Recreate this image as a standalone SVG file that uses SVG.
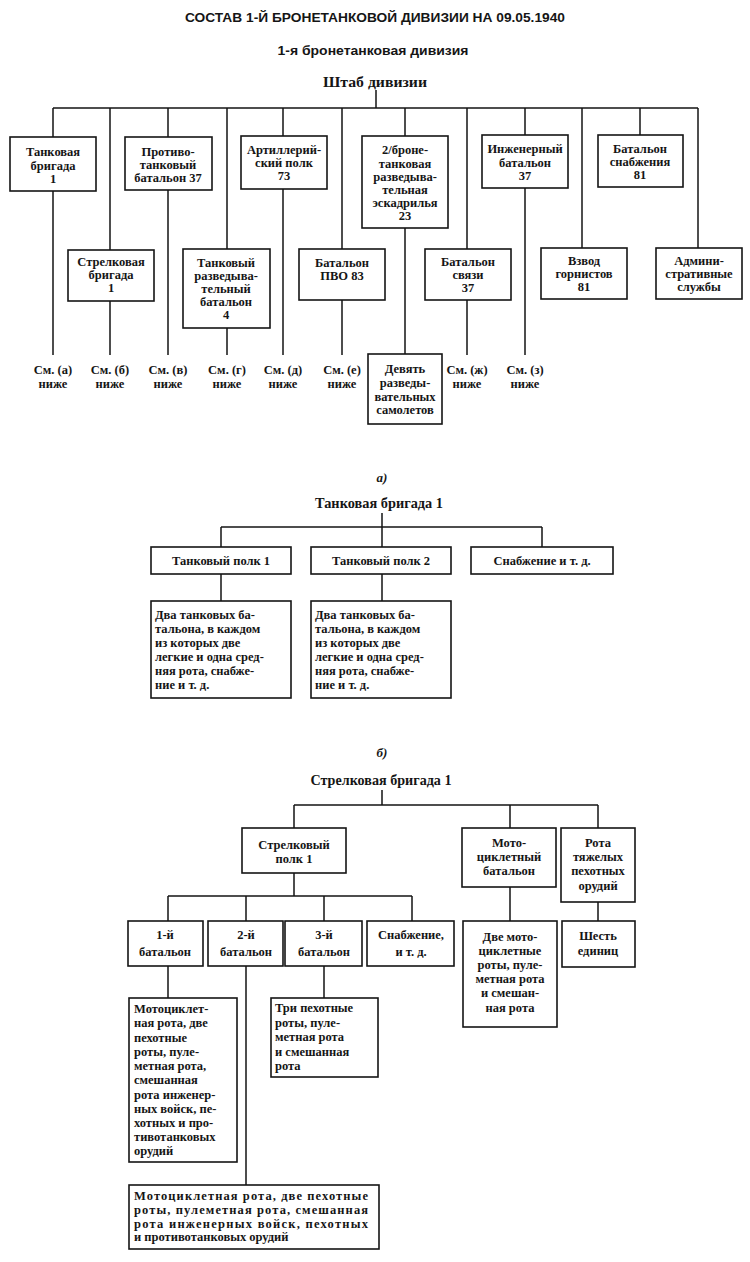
<svg xmlns="http://www.w3.org/2000/svg" width="750" height="1262" viewBox="0 0 750 1262">
<style>
.bg{fill:#fff}
.box{fill:#fff;stroke:#151515;stroke-width:1.6}
.ln{fill:none;stroke:#151515;stroke-width:1.5}
.t{font-family:"Liberation Serif","DejaVu Serif",serif;font-weight:bold;font-size:12.5px;fill:#151515;text-anchor:middle}
.tl{font-family:"Liberation Serif","DejaVu Serif",serif;font-weight:bold;font-size:12.5px;fill:#151515;text-anchor:start}
.h{font-family:"Liberation Serif","DejaVu Serif",serif;font-weight:bold;font-size:15px;fill:#151515;text-anchor:middle}
.s{font-family:"Liberation Sans","DejaVu Sans",sans-serif;font-weight:bold;fill:#151515;text-anchor:middle}
.i{font-family:"Liberation Serif","DejaVu Serif",serif;font-style:italic;font-weight:bold;font-size:13px;fill:#151515;text-anchor:middle}
</style>
<rect class="bg" x="0" y="0" width="750" height="1262"/>

<g id="titles">
<text class="s" x="375" y="22" font-size="12.5" textLength="380" lengthAdjust="spacingAndGlyphs">СОСТАВ 1-Й БРОНЕТАНКОВОЙ ДИВИЗИИ НА 09.05.1940</text>
<text class="s" x="373" y="55" font-size="13.5" textLength="191" lengthAdjust="spacingAndGlyphs">1-я бронетанковая дивизия</text>
<text class="h" x="375" y="87" font-size="16" textLength="104" lengthAdjust="spacingAndGlyphs">Штаб дивизии</text>
<text class="i" x="382" y="482">а)</text>
<text class="h" x="379" y="508" font-size="14" textLength="128" lengthAdjust="spacingAndGlyphs">Танковая бригада 1</text>
<text class="i" x="382" y="757">б)</text>
<text class="h" x="381" y="785" font-size="14" textLength="141" lengthAdjust="spacingAndGlyphs">Стрелковая бригада 1</text>
</g>

<g id="connectors">
<path class="ln" d="M376,90 V108 M53,108 H698"/>
<path class="ln" d="M53,108 V137 M53,191 V355"/>
<path class="ln" d="M110,108 V250 M110,301 V355"/>
<path class="ln" d="M168,108 V137 M168,190 V355"/>
<path class="ln" d="M227,108 V249 M227,328 V355"/>
<path class="ln" d="M283,108 V136 M283,189 V355"/>
<path class="ln" d="M342,108 V249 M342,300 V355"/>
<path class="ln" d="M405,108 V136 M405,228 V354"/>
<path class="ln" d="M467,108 V249 M467,300 V355"/>
<path class="ln" d="M525,108 V135 M525,188 V355"/>
<path class="ln" d="M582,108 V248"/>
<path class="ln" d="M640,108 V135"/>
<path class="ln" d="M698,108 V248"/>
<path class="ln" d="M382,513 V527 M221,527 H542 M221,527 V547 M382,527 V547 M542,527 V547"/>
<path class="ln" d="M221,574 V601 M382,574 V601"/>
<path class="ln" d="M382,790 V805 M294,805 H598 M294,805 V828 M510,805 V828 M598,805 V828"/>
<path class="ln" d="M294,873 V896 M168,896 H412 M168,896 V921 M246,896 V921 M324,896 V921 M412,896 V921"/>
<path class="ln" d="M510,887 V921 M598,902 V921"/>
<path class="ln" d="M168,966 V998 M246,966 V1185 M324,966 V998"/>
</g>

<g id="n-tank-brigade"><rect class="box" x="10" y="137" width="86" height="54"/>
<text class="t" x="53" y="156">Танковая</text><text class="t" x="53" y="170">бригада</text><text class="t" x="53" y="183">1</text></g>
<g id="n-antitank"><rect class="box" x="125" y="137" width="87" height="53"/>
<text class="t" x="168" y="156">Противо-</text><text class="t" x="168" y="169">танковый</text><text class="t" x="168" y="182">батальон 37</text></g>
<g id="n-artillery"><rect class="box" x="241" y="136" width="86" height="53"/>
<text class="t" x="284" y="154">Артиллерий-</text><text class="t" x="284" y="167">ский полк</text><text class="t" x="284" y="180">73</text></g>
<g id="n-recon-sq"><rect class="box" x="362" y="136" width="86" height="92"/>
<text class="t" x="405" y="154">2/броне-</text><text class="t" x="405" y="168">танковая</text><text class="t" x="405" y="181">разведыва-</text><text class="t" x="405" y="194">тельная</text><text class="t" x="405" y="207">эскадрилья</text><text class="t" x="405" y="220">23</text></g>
<g id="n-engineer"><rect class="box" x="482" y="135" width="86" height="53"/>
<text class="t" x="525" y="153">Инженерный</text><text class="t" x="525" y="167">батальон</text><text class="t" x="525" y="180">37</text></g>
<g id="n-supply"><rect class="box" x="598" y="135" width="85" height="52"/>
<text class="t" x="640" y="153">Батальон</text><text class="t" x="640" y="166">снабжения</text><text class="t" x="640" y="179">81</text></g>

<g id="n-rifle-brigade"><rect class="box" x="68" y="250" width="86" height="51"/>
<text class="t" x="111" y="266">Стрелковая</text><text class="t" x="111" y="279">бригада</text><text class="t" x="111" y="292">1</text></g>
<g id="n-tank-recon"><rect class="box" x="183" y="249" width="87" height="79"/>
<text class="t" x="226" y="267">Танковый</text><text class="t" x="226" y="280">разведыва-</text><text class="t" x="226" y="293">тельный</text><text class="t" x="226" y="306">батальон</text><text class="t" x="226" y="319">4</text></g>
<g id="n-aa"><rect class="box" x="299" y="249" width="86" height="51"/>
<text class="t" x="342" y="267">Батальон</text><text class="t" x="342" y="280">ПВО 83</text></g>
<g id="n-signal"><rect class="box" x="425" y="249" width="86" height="51"/>
<text class="t" x="468" y="266">Батальон</text><text class="t" x="468" y="279">связи</text><text class="t" x="468" y="292">37</text></g>
<g id="n-buglers"><rect class="box" x="541" y="248" width="86" height="51"/>
<text class="t" x="584" y="265">Взвод</text><text class="t" x="584" y="278">горнистов</text><text class="t" x="584" y="291">81</text></g>
<g id="n-admin"><rect class="box" x="656" y="248" width="86" height="51"/>
<text class="t" x="699" y="265">Админи-</text><text class="t" x="699" y="278">стративные</text><text class="t" x="699" y="291">службы</text></g>
<g id="n-planes"><rect class="box" x="368" y="354" width="74" height="70"/>
<text class="t" x="405" y="373">Девять</text><text class="t" x="405" y="387">разведы-</text><text class="t" x="405" y="401">вательных</text><text class="t" x="405" y="414">самолетов</text></g>

<g id="see-labels">
<text class="t" x="53" y="374">См. (а)</text><text class="t" x="53" y="388">ниже</text>
<text class="t" x="110" y="374">См. (б)</text><text class="t" x="110" y="388">ниже</text>
<text class="t" x="168" y="374">См. (в)</text><text class="t" x="168" y="388">ниже</text>
<text class="t" x="227" y="374">См. (г)</text><text class="t" x="227" y="388">ниже</text>
<text class="t" x="283" y="374">См. (д)</text><text class="t" x="283" y="388">ниже</text>
<text class="t" x="342" y="374">См. (е)</text><text class="t" x="342" y="388">ниже</text>
<text class="t" x="467" y="374">См. (ж)</text><text class="t" x="467" y="388">ниже</text>
<text class="t" x="525" y="374">См. (з)</text><text class="t" x="525" y="388">ниже</text>
</g>

<g id="n-tank-reg1"><rect class="box" x="151" y="547" width="140" height="27"/>
<text class="t" x="221" y="565">Танковый полк 1</text></g>
<g id="n-tank-reg2"><rect class="box" x="311" y="547" width="140" height="27"/>
<text class="t" x="381" y="565">Танковый полк 2</text></g>
<g id="n-tank-supply"><rect class="box" x="471" y="547" width="142" height="27"/>
<text class="t" x="542" y="565">Снабжение и т. д.</text></g>
<g id="n-tank-reg1-detail"><rect class="box" x="151" y="601" width="140" height="97"/>
<text class="tl" x="155" y="619">Два танковых ба-</text><text class="tl" x="155" y="633">тальона, в каждом</text><text class="tl" x="155" y="647">из которых две</text><text class="tl" x="155" y="661">легкие и одна сред-</text><text class="tl" x="155" y="675">няя рота, снабже-</text><text class="tl" x="155" y="689">ние и т. д.</text></g>
<g id="n-tank-reg2-detail"><rect class="box" x="311" y="601" width="140" height="97"/>
<text class="tl" x="315" y="619">Два танковых ба-</text><text class="tl" x="315" y="633">тальона, в каждом</text><text class="tl" x="315" y="647">из которых две</text><text class="tl" x="315" y="661">легкие и одна сред-</text><text class="tl" x="315" y="675">няя рота, снабже-</text><text class="tl" x="315" y="689">ние и т. д.</text></g>

<g id="n-rifle-reg"><rect class="box" x="242" y="828" width="104" height="45"/>
<text class="t" x="294" y="849">Стрелковый</text><text class="t" x="294" y="863">полк 1</text></g>
<g id="n-moto-bn"><rect class="box" x="462" y="828" width="94" height="59"/>
<text class="t" x="509" y="847">Мото-</text><text class="t" x="509" y="861">циклетный</text><text class="t" x="509" y="875">батальон</text></g>
<g id="n-heavy-inf"><rect class="box" x="561" y="828" width="74" height="74"/>
<text class="t" x="598" y="847">Рота</text><text class="t" x="598" y="861">тяжелых</text><text class="t" x="598" y="875">пехотных</text><text class="t" x="598" y="890">орудий</text></g>
<g id="n-bn1"><rect class="box" x="128" y="921" width="75" height="45"/>
<text class="t" x="165" y="939">1-й</text><text class="t" x="165" y="956">батальон</text></g>
<g id="n-bn2"><rect class="box" x="208" y="921" width="75" height="45"/>
<text class="t" x="246" y="939">2-й</text><text class="t" x="246" y="956">батальон</text></g>
<g id="n-bn3"><rect class="box" x="285" y="921" width="77" height="45"/>
<text class="t" x="324" y="939">3-й</text><text class="t" x="324" y="956">батальон</text></g>
<g id="n-rifle-supply"><rect class="box" x="367" y="921" width="87" height="45"/>
<text class="t" x="411" y="939">Снабжение,</text><text class="t" x="411" y="956">и т. д.</text></g>
<g id="n-moto-detail"><rect class="box" x="463" y="921" width="94" height="106"/>
<text class="t" x="510" y="941">Две мото-</text><text class="t" x="510" y="955">циклетные</text><text class="t" x="510" y="969">роты, пуле-</text><text class="t" x="510" y="983">метная рота</text><text class="t" x="510" y="997">и смешан-</text><text class="t" x="510" y="1012">ная рота</text></g>
<g id="n-six"><rect class="box" x="562" y="921" width="73" height="46"/>
<text class="t" x="598" y="940">Шесть</text><text class="t" x="598" y="955">единиц</text></g>
<g id="n-bn1-detail"><rect class="box" x="129" y="998" width="108" height="164"/>
<text class="tl" x="134" y="1013">Мотоциклет-</text><text class="tl" x="134" y="1027">ная рота, две</text><text class="tl" x="134" y="1042">пехотные</text><text class="tl" x="134" y="1056">роты, пуле-</text><text class="tl" x="134" y="1070">метная рота,</text><text class="tl" x="134" y="1084">смешанная</text><text class="tl" x="134" y="1099">рота инженер-</text><text class="tl" x="134" y="1113">ных войск, пе-</text><text class="tl" x="134" y="1127">хотных и про-</text><text class="tl" x="134" y="1141">тивотанковых</text><text class="tl" x="134" y="1155">орудий</text></g>
<g id="n-bn3-detail"><rect class="box" x="271" y="998" width="107" height="79"/>
<text class="tl" x="275" y="1012">Три пехотные</text><text class="tl" x="275" y="1027">роты, пуле-</text><text class="tl" x="275" y="1041">метная рота</text><text class="tl" x="275" y="1056">и смешанная</text><text class="tl" x="275" y="1070">рота</text></g>
<g id="n-bn2-detail"><rect class="box" x="129" y="1185" width="250" height="64"/>
<text class="tl" x="134" y="1200" textLength="234" lengthAdjust="spacing">Мотоциклетная рота, две пехотные</text><text class="tl" x="134" y="1214" textLength="234" lengthAdjust="spacing">роты, пулеметная рота, смешанная</text><text class="tl" x="134" y="1228" textLength="234" lengthAdjust="spacing">рота инженерных войск, пехотных</text><text class="tl" x="134" y="1241">и противотанковых орудий</text></g>
</svg>
